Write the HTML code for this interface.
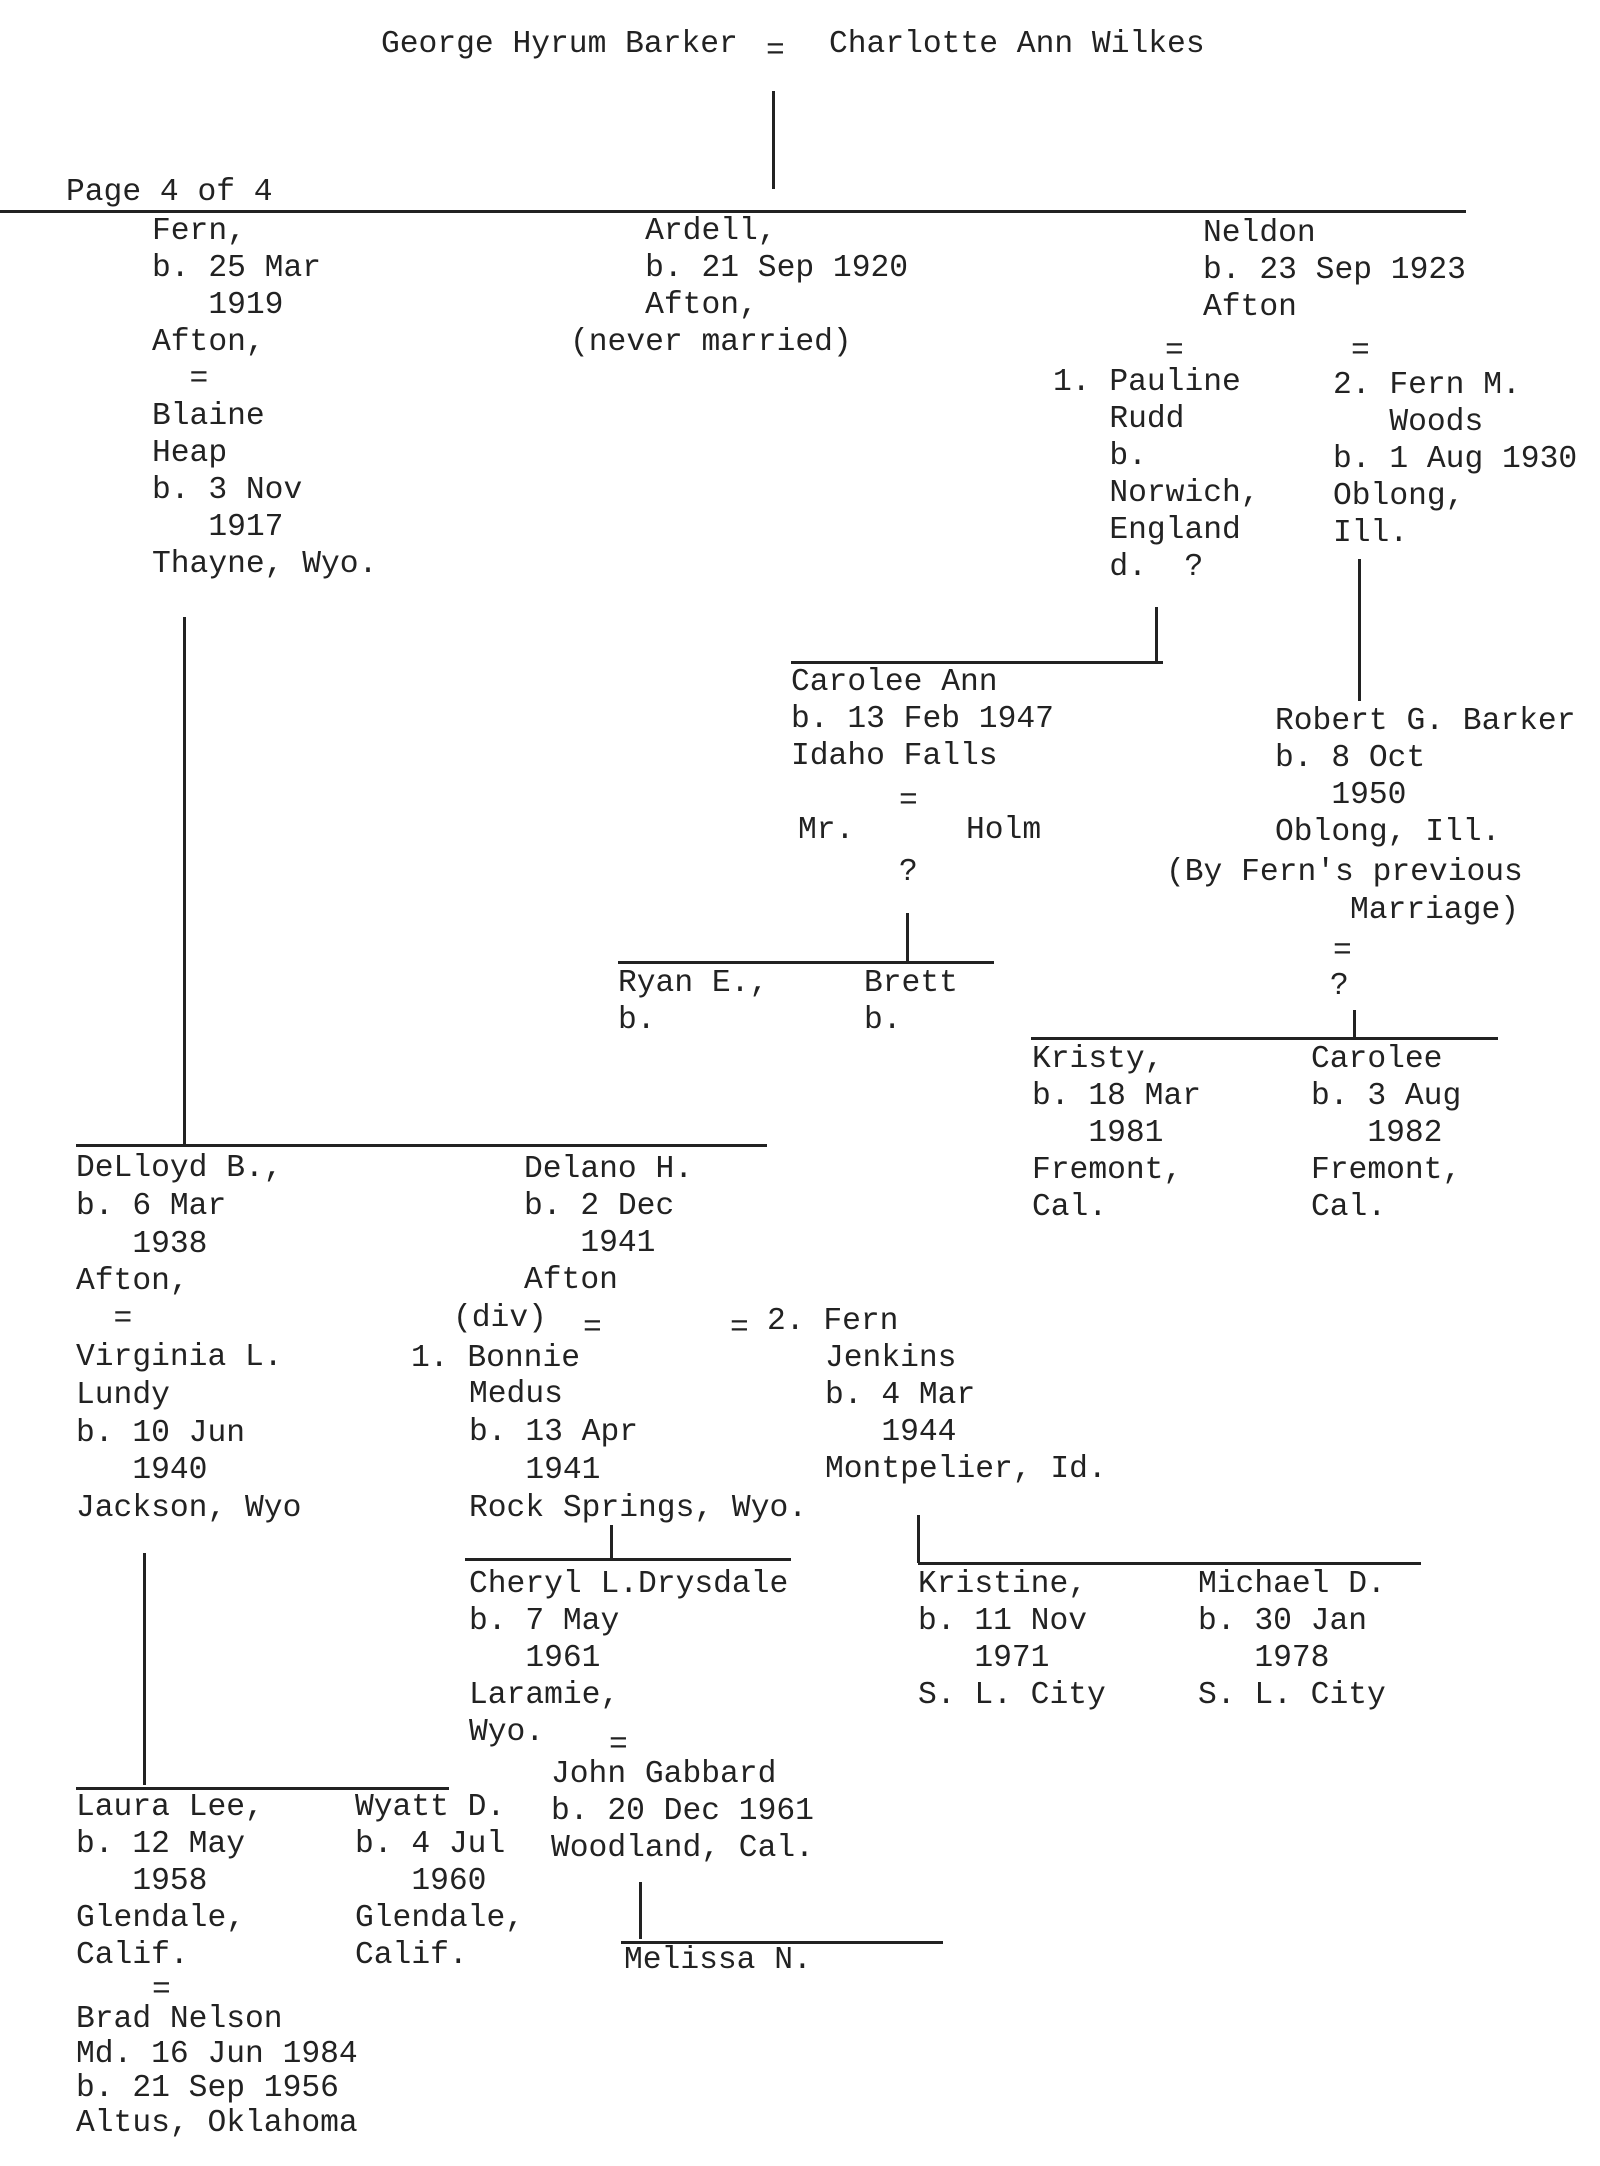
<!DOCTYPE html>
<html><head><meta charset="utf-8"><style>
body{margin:0;background:#fff;}
#p{position:relative;width:1600px;height:2166px;overflow:hidden;background:#fff;}
.t{position:absolute;white-space:pre;font:31.3px/37px "Liberation Mono",monospace;color:#222;margin:0;transform:translateY(4px);}
.v{position:absolute;width:3px;background:#222;}
.h{position:absolute;height:3px;background:#222;}
</style></head><body><div id="p">
<div class="t" style="left:381px;top:22px">George Hyrum Barker</div>
<div class="t" style="left:766px;top:29px">=</div>
<div class="t" style="left:829px;top:22px">Charlotte Ann Wilkes</div>
<div class="t" style="left:66px;top:170px">Page 4 of 4</div>
<div class="v" style="left:772px;top:91px;height:98px"></div>
<div class="h" style="left:0;top:210px;width:1466px"></div>

<div class="t" style="left:152px;top:209px">Fern,
b. 25 Mar
   1919
Afton,
  =
Blaine
Heap
b. 3 Nov
   1917
Thayne, Wyo.</div>

<div class="t" style="left:570px;top:209px">    Ardell,
    b. 21 Sep 1920
    Afton,
(never married)</div>

<div class="t" style="left:1203px;top:211px">Neldon
b. 23 Sep 1923
Afton</div>
<div class="t" style="left:1165px;top:329px">=</div>
<div class="t" style="left:1351px;top:329px">=</div>
<div class="t" style="left:1053px;top:360px">1. Pauline
   Rudd
   b.
   Norwich,
   England
   d.  ?</div>
<div class="t" style="left:1333px;top:363px">2. Fern M.
   Woods
b. 1 Aug 1930
Oblong,
Ill.</div>
<div class="v" style="left:1155px;top:607px;height:55px"></div>
<div class="h" style="left:791px;top:661px;width:372px"></div>
<div class="v" style="left:1358px;top:559px;height:142px"></div>

<div class="t" style="left:791px;top:660px">Carolee Ann
b. 13 Feb 1947
Idaho Falls</div>
<div class="t" style="left:899px;top:779px">=</div>
<div class="t" style="left:798px;top:808px">Mr.</div>
<div class="t" style="left:966px;top:808px">Holm</div>
<div class="t" style="left:899px;top:850px">?</div>
<div class="v" style="left:906px;top:913px;height:49px"></div>
<div class="h" style="left:618px;top:961px;width:376px"></div>
<div class="t" style="left:618px;top:961px">Ryan E.,
b.</div>
<div class="t" style="left:864px;top:961px">Brett
b.</div>

<div class="t" style="left:1275px;top:699px">Robert G. Barker
b. 8 Oct
   1950
Oblong, Ill.</div>
<div class="t" style="left:1166px;top:850px">(By Fern's previous</div>
<div class="t" style="left:1350px;top:888px">Marriage)</div>
<div class="t" style="left:1333px;top:929px">=</div>
<div class="t" style="left:1330px;top:964px">?</div>
<div class="v" style="left:1353px;top:1010px;height:28px"></div>
<div class="h" style="left:1031px;top:1037px;width:467px"></div>
<div class="t" style="left:1032px;top:1037px">Kristy,
b. 18 Mar
   1981
Fremont,
Cal.</div>
<div class="t" style="left:1311px;top:1037px">Carolee
b. 3 Aug
   1982
Fremont,
Cal.</div>

<div class="v" style="left:183px;top:617px;height:528px"></div>
<div class="h" style="left:76px;top:1144px;width:691px"></div>
<div class="t" style="left:76px;top:1146px;line-height:37.8px">DeLloyd B.,
b. 6 Mar
   1938
Afton,
  =
Virginia L.
Lundy
b. 10 Jun
   1940
Jackson, Wyo</div>
<div class="t" style="left:524px;top:1147px">Delano H.
b. 2 Dec
   1941
Afton</div>
<div class="t" style="left:453px;top:1296px">(div)</div>
<div class="t" style="left:583px;top:1306px">=</div>
<div class="t" style="left:730px;top:1306px">=</div>
<div class="t" style="left:767px;top:1299px">2. Fern</div>
<div class="t" style="left:411px;top:1336px">1. Bonnie</div>
<div class="t" style="left:469px;top:1372px;line-height:38px">Medus
b. 13 Apr
   1941
Rock Springs, Wyo.</div>
<div class="t" style="left:825px;top:1336px">Jenkins
b. 4 Mar
   1944
Montpelier, Id.</div>

<div class="v" style="left:610px;top:1525px;height:34px"></div>
<div class="h" style="left:465px;top:1558px;width:326px"></div>
<div class="t" style="left:469px;top:1562px">Cheryl L.Drysdale
b. 7 May
   1961
Laramie,
Wyo.</div>
<div class="t" style="left:609px;top:1723px">=</div>
<div class="t" style="left:551px;top:1752px">John Gabbard
b. 20 Dec 1961
Woodland, Cal.</div>
<div class="v" style="left:639px;top:1882px;height:57px"></div>
<div class="h" style="left:621px;top:1941px;width:322px"></div>
<div class="t" style="left:624px;top:1938px">Melissa N.</div>

<div class="v" style="left:917px;top:1515px;height:48px"></div>
<div class="h" style="left:918px;top:1562px;width:503px"></div>
<div class="t" style="left:918px;top:1562px">Kristine,
b. 11 Nov
   1971
S. L. City</div>
<div class="t" style="left:1198px;top:1562px">Michael D.
b. 30 Jan
   1978
S. L. City</div>

<div class="v" style="left:143px;top:1553px;height:232px"></div>
<div class="h" style="left:76px;top:1787px;width:373px"></div>
<div class="t" style="left:76px;top:1785px">Laura Lee,
b. 12 May
   1958
Glendale,
Calif.</div>
<div class="t" style="left:152px;top:1968px">=</div>
<div class="t" style="left:76px;top:1999px;line-height:34.5px">Brad Nelson
Md. 16 Jun 1984
b. 21 Sep 1956
Altus, Oklahoma</div>
<div class="t" style="left:355px;top:1785px">Wyatt D.
b. 4 Jul
   1960
Glendale,
Calif.</div>
</div></body></html>
